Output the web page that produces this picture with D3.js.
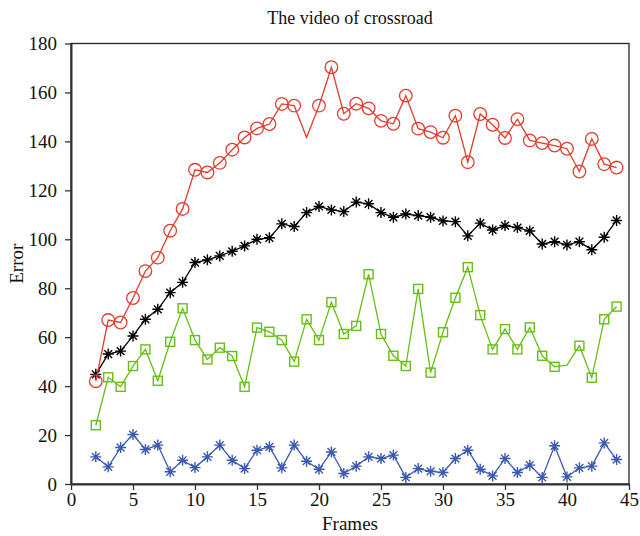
<!DOCTYPE html>
<html>
<head>
<meta charset="utf-8">
<script src="https://cdn.jsdelivr.net/npm/d3@7"></script>
<style>
  html, body { margin: 0; padding: 0; background: #fff; }
  svg text { font-family: "Liberation Serif", "DejaVu Serif", serif; fill: #111; }
</style>
</head>
<body>
<svg id="chart" width="640" height="536"></svg>
<script>
// Frame numbers
const frames = d3.range(2, 45);

// Error per frame for each method
const redSeries = [42, 67, 66, 76, 87, 92.5, 103.5, 112.4, 128.4, 127.3, 131.2, 136.6, 141.6, 145.3, 147.1, 155.3, 154.6, 141.6, 154.6, 170.3, 151.3, 155.4, 153.5, 148.4, 147.2, 158.7, 145.2, 143.8, 141.5, 150.5, 131.5, 151.2, 146.8, 141.4, 149.1, 140.4, 139.3, 138.3, 137, 127.7, 141, 130.7, 129.3];
const blackSeries = [44.8, 53.1, 54.3, 60.5, 67.3, 71.4, 78.2, 82.4, 90.5, 91.6, 93.2, 95.1, 97.3, 100, 100.6, 106.3, 105.2, 110.9, 113.4, 112, 111.3, 115.2, 114.5, 110.9, 109, 110.3, 109.7, 109, 107.5, 107.2, 101.4, 106.6, 103.8, 105.6, 104.8, 103.4, 98.1, 99, 97.7, 99, 95.7, 100.8, 107.7];
const greenSeries = [24, 43.6, 39.7, 48.2, 55, 42.2, 58.1, 71.8, 58.8, 50.9, 55.7, 52.3, 39.7, 63.9, 62.2, 58.8, 50, 67.3, 58.8, 74.3, 61.3, 64.6, 85.7, 61.3, 52.4, 48.2, 79.7, 45.5, 62, 76.1, 88.6, 69, 55, 63.3, 55, 64, 52.4, 47.9, 48.6, 56.5, 43.4, 67.3, 72.5];
const blueSeries = [11.1, 7, 14.9, 20.2, 14.1, 15.9, 5, 9.7, 6.7, 11.1, 15.9, 9.7, 6.3, 13.8, 15.2, 6.6, 15.9, 9.3, 6, 13.1, 4.3, 7.3, 11.1, 10.4, 11.8, 2.7, 6.3, 5.2, 4.7, 10.4, 13.8, 6, 3.3, 10.4, 4.7, 7.7, 2.7, 15.6, 2.9, 6.6, 7.3, 16.8, 10];

// Frames whose point is drawn on the line without a marker
const redNoMarker = [19];
const greenNoMarker = [40];

const xTicks = [0, 5, 10, 15, 20, 25, 30, 35, 40, 45];
const yTicks = [0, 20, 40, 60, 80, 100, 120, 140, 160, 180];

const FONT = '"Liberation Serif", "DejaVu Serif", serif';
const width = 640, height = 536;
const margin = { top: 43.5, right: 11, bottom: 52, left: 71 };
const innerW = width - margin.left - margin.right;
const innerH = height - margin.top - margin.bottom;

const svg = d3.select("#chart");
const g = svg.append("g").attr("transform", `translate(${margin.left},${margin.top})`);

const x = d3.scaleLinear().domain([0, 45]).range([0, innerW]);
const y = d3.scaleLinear().domain([0, 180]).range([innerH, 0]);

// Frame box
g.append("rect")
  .attr("x", 0).attr("y", 0).attr("width", innerW).attr("height", innerH)
  .attr("fill", "none").attr("stroke", "#222").attr("stroke-width", 1.3);

// Axes
const xAxis = g.append("g").attr("transform", `translate(0,${innerH})`)
  .call(d3.axisBottom(x).tickValues(xTicks).tickSize(6).tickSizeOuter(0).tickPadding(3));
const yAxis = g.append("g")
  .call(d3.axisLeft(y).tickValues(yTicks).tickSize(6).tickSizeOuter(0).tickPadding(8));
[xAxis, yAxis].forEach(a => {
  a.attr("font-family", null).attr("font-size", null);
  a.select(".domain").attr("stroke", "#333").attr("stroke-width", 2);
  a.selectAll(".tick line").attr("stroke", "#333").attr("stroke-width", 1.3);
  a.selectAll(".tick text")
    .style("font-family", FONT)
    .style("font-size", "19px").style("fill", "#111");
});

// Titles
svg.append("text")
  .attr("x", margin.left + innerW / 2).attr("y", 24)
  .attr("text-anchor", "middle").style("font-size", "18px")
  .text("The video of crossroad");
svg.append("text")
  .attr("x", margin.left + innerW / 2).attr("y", 530)
  .attr("text-anchor", "middle").style("font-size", "19px")
  .text("Frames");
svg.append("text")
  .attr("transform", `translate(23,${margin.top + innerH / 2}) rotate(-90)`)
  .attr("text-anchor", "middle").style("font-size", "19px")
  .text("Error");

const line = d3.line().x(d => x(d.f)).y(d => y(d.v));

function asteriskPath(r) {
  const d = r * Math.SQRT1_2;
  return `M${-r},0L${r},0M0,${-r}L0,${r}M${-d},${-d}L${d},${d}M${-d},${d}L${d},${-d}`;
}

function drawSeries(values, color, marker, skip) {
  const data = frames.map((f, i) => ({ f, v: values[i] }));
  g.append("path").datum(data)
    .attr("fill", "none").attr("stroke", color).attr("stroke-width", 1.3)
    .attr("d", line);
  const pts = g.append("g").selectAll("g")
    .data(data.filter(d => !skip.includes(d.f)))
    .join("g")
    .attr("transform", d => `translate(${x(d.f)},${y(d.v)})`);
  if (marker === "circle") {
    pts.append("circle").attr("r", 6.3)
      .attr("fill", "none").attr("stroke", color).attr("stroke-width", 1.3);
  } else if (marker === "square") {
    pts.append("rect").attr("x", -4.5).attr("y", -4.5).attr("width", 9).attr("height", 9)
      .attr("fill", "none").attr("stroke", color).attr("stroke-width", 1.4);
  } else {
    pts.append("path").attr("d", asteriskPath(5.5))
      .attr("fill", "none").attr("stroke", color).attr("stroke-width", 1.4);
  }
}

drawSeries(greenSeries, "#66bf14", "square", greenNoMarker);
drawSeries(blueSeries, "#3a59b0", "asterisk", []);
drawSeries(blackSeries, "#000000", "asterisk", []);
drawSeries(redSeries, "#e53a2c", "circle", redNoMarker);
</script>
</body>
</html>
